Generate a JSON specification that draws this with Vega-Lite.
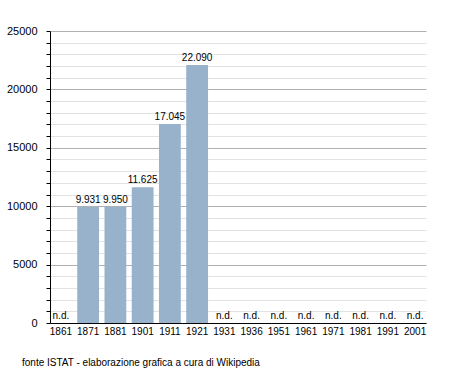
{
  "$schema": "https://vega.github.io/schema/vega-lite/v6.json",
  "width": 376,
  "height": 292,
  "autosize": "none",
  "padding": {"left": 50, "top": 31, "right": 29, "bottom": 50},
  "config": {
    "font": "Liberation Sans",
    "view": {"stroke": null},
    "locale": {"number": {"decimal": ",", "thousands": ".", "grouping": [3], "currency": ["€", ""]}},
    "axisY": {
      "title": null,
      "format": "d",
      "labelExpr": "datum.value % 5000 === 0 ? datum.label : ''",
      "grid": true,
      "gridColor": {"condition": {"test": "datum.value % 5000 === 0", "value": "#b0b0b0"}, "value": "#e2e2e2"},
      "tickSize": 4,
      "tickColor": "#000000",
      "labelPadding": 9,
      "labelFontSize": 11,
      "labelColor": "#000000",
      "domainColor": "#000000"
    }
  },
  "title": {
    "text": "fonte ISTAT - elaborazione grafica a cura di Wikipedia",
    "orient": "bottom",
    "anchor": "start",
    "frame": "group",
    "dx": -28,
    "offset": 22,
    "fontSize": 10,
    "fontWeight": "normal",
    "color": "#000000",
    "font": "Liberation Sans"
  },
  "datasets": {
    "pop": [
      {"anno": "1861", "ab": null},
      {"anno": "1871", "ab": 9931},
      {"anno": "1881", "ab": 9950},
      {"anno": "1901", "ab": 11625},
      {"anno": "1911", "ab": 17045},
      {"anno": "1921", "ab": 22090},
      {"anno": "1931", "ab": null},
      {"anno": "1936", "ab": null},
      {"anno": "1951", "ab": null},
      {"anno": "1961", "ab": null},
      {"anno": "1971", "ab": null},
      {"anno": "1981", "ab": null},
      {"anno": "1991", "ab": null},
      {"anno": "2001", "ab": null}
    ]
  },
  "encoding": {
    "x": {
      "field": "anno",
      "type": "ordinal",
      "sort": ["1861","1871","1881","1901","1911","1921","1931","1936","1951","1961","1971","1981","1991","2001"],
      "scale": {"paddingInner": 0.2, "paddingOuter": 0},
      "axis": {
        "title": null,
        "labelAngle": 0,
        "ticks": false,
        "labelPadding": 3,
        "labelFontSize": 10,
        "labelColor": "#000000",
        "domainColor": "#000000",
        "domainWidth": 1
      }
    }
  },
  "layer": [
    {
      "data": {"name": "pop"},
      "mark": {"type": "bar", "color": "#99b2cc"},
      "encoding": {
        "y": {
          "field": "ab",
          "type": "quantitative",
          "scale": {"domain": [0, 25000], "nice": false},
          "axis": {
            "values": [0,1000,2000,3000,4000,5000,6000,7000,8000,9000,10000,11000,12000,13000,14000,15000,16000,17000,18000,19000,20000,21000,22000,23000,24000,25000]
          }
        }
      }
    },
    {
      "data": {"name": "pop"},
      "transform": [{"filter": "isValid(datum.ab)"}],
      "mark": {"type": "text", "baseline": "bottom", "dy": -2, "fontSize": 10, "color": "#000000"},
      "encoding": {
        "y": {
          "field": "ab",
          "type": "quantitative",
          "scale": {"domain": [0, 25000], "nice": false},
          "axis": {
            "values": [0,1000,2000,3000,4000,5000,6000,7000,8000,9000,10000,11000,12000,13000,14000,15000,16000,17000,18000,19000,20000,21000,22000,23000,24000,25000]
          }
        },
        "text": {"field": "ab", "type": "quantitative", "format": ",d"}
      }
    },
    {
      "data": {"name": "pop"},
      "transform": [{"filter": "!isValid(datum.ab)"}],
      "mark": {"type": "text", "baseline": "bottom", "dy": -2, "fontSize": 10, "color": "#000000"},
      "encoding": {
        "y": {
          "datum": 0,
          "type": "quantitative",
          "scale": {"domain": [0, 25000], "nice": false},
          "axis": {
            "values": [0,1000,2000,3000,4000,5000,6000,7000,8000,9000,10000,11000,12000,13000,14000,15000,16000,17000,18000,19000,20000,21000,22000,23000,24000,25000]
          }
        },
        "text": {"value": "n.d."}
      }
    }
  ]
}
